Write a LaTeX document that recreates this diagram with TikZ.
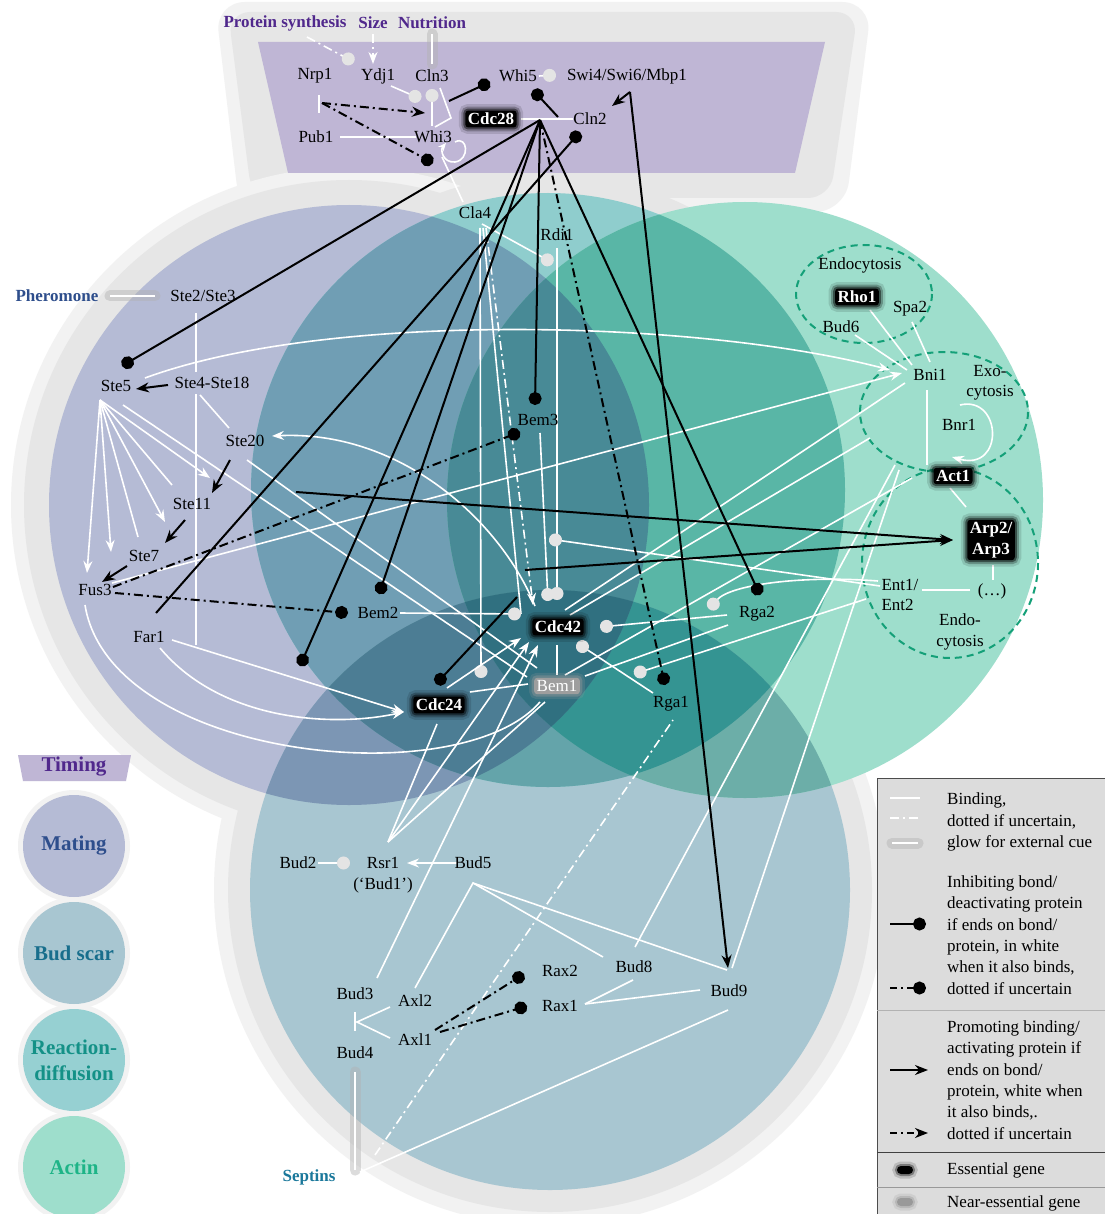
\documentclass[tikz,border=0pt]{standalone}
\usepackage{fontspec}
\setmainfont{Liberation Serif}
\usetikzlibrary{arrows.meta}
\definecolor{cMat}{RGB}{181,187,213}
\definecolor{cRea}{RGB}{143,205,205}
\definecolor{cAct}{RGB}{158,222,204}
\definecolor{cBud}{RGB}{168,198,209}
\definecolor{cMR}{RGB}{112,158,180}
\definecolor{cRA}{RGB}{89,182,166}
\definecolor{cMA}{RGB}{112,163,170}
\definecolor{cMB}{RGB}{124,150,180}
\definecolor{cRB}{RGB}{100,164,170}
\definecolor{cAB}{RGB}{108,174,168}
\definecolor{cMRA}{RGB}{72,138,150}
\definecolor{cMRB}{RGB}{76,125,148}
\definecolor{cRAB}{RGB}{52,148,146}
\definecolor{cMAB}{RGB}{80,132,146}
\definecolor{cMRAB}{RGB}{48,112,128}
\definecolor{cTop}{RGB}{191,182,213}
\definecolor{cGlow}{RGB}{230,230,230}
\definecolor{cGlowB}{RGB}{242,242,242}
\definecolor{cPurp}{RGB}{80,40,140}
\definecolor{cBlue}{RGB}{46,78,140}
\definecolor{cSep}{RGB}{26,120,155}
\definecolor{cDash}{RGB}{20,160,120}
\definecolor{cDot}{RGB}{228,228,228}
\definecolor{cLeg}{RGB}{220,220,220}
\definecolor{tBud}{RGB}{24,110,140}
\definecolor{tRea}{RGB}{20,145,135}
\definecolor{tAct}{RGB}{30,180,135}
\definecolor{lRea}{RGB}{150,208,210}
\newcommand\lbl{\fontsize{17}{20.5}\selectfont}
\newcommand\legf{\fontsize{17}{21.4}\selectfont}
\newcommand\titf{\fontsize{21}{26}\selectfont}
\begin{document}
\begin{tikzpicture}[x=1pt,y=-1pt,
  every node/.style={font=\lbl, inner sep=1pt},
  ess/.style={fill=black, text=white, font=\lbl\bfseries, rounded corners=3pt, inner sep=2.5pt,
     preaction={draw=black, line width=13pt, draw opacity=0.12},
     preaction={draw=black, line width=8pt, draw opacity=0.25},
     preaction={draw=black, line width=4pt, draw opacity=0.45}},
  nes/.style={fill=black!38, text=white, rounded corners=3pt, inner sep=2.5pt,
     preaction={draw=black!40, line width=10pt, draw opacity=0.2},
     preaction={draw=black!40, line width=5pt, draw opacity=0.4}},
  wl/.style={draw=white, line width=1.6pt},
  bl/.style={draw=black, line width=2pt},
  dd/.style={dash pattern=on 9pt off 4pt on 2pt off 4pt},
  bdot/.style={-{Circle[length=13pt]}},
  wdot/.style={-{Circle[length=13pt,color=cDot,fill=cDot]}},
  barr/.style={-{Stealth[length=13pt,width=10pt]}},
  warr/.style={-{Stealth[length=12pt,width=9pt]}},
  cue/.style={draw=black!30, line width=11pt, line cap=round, draw opacity=0.45},
  title/.style={font=\lbl\bfseries},
  ltitle/.style={font=\titf\bfseries},
]
\useasboundingbox (0,0) rectangle (1105,1214);
\fill[white] (0,0) rectangle (1105,1214);
% ---------------- glow
\fill[cGlowB, rounded corners=30pt] (215,2) -- (872,2) -- (845,212) -- (240,212) -- cycle;
\fill[cGlow, rounded corners=22pt] (228,12) -- (858,12) -- (830,198) -- (252,198) -- cycle;
\fill[cGlowB] (349,505) circle (338);
\fill[cGlowB] (550,890) circle (336);
\fill[cGlow] (349,505) circle (325);
\fill[cGlow] (550,890) circle (322);
\fill[cGlow] (548,490) circle (316);
% ---------------- singles
\fill[cMat] (349,505) circle (300);
\fill[cBud] (550,890) circle (300);
\fill[cRea] (548,490) circle (297);
\fill[cAct] (745,500) circle (298);
% ---------------- pairs
\begin{scope}\clip (349,505) circle (300); \fill[cMR] (548,490) circle (297); \end{scope}
\begin{scope}\clip (349,505) circle (300); \fill[cMA] (745,500) circle (298); \end{scope}
\begin{scope}\clip (349,505) circle (300); \fill[cMB] (550,890) circle (300); \end{scope}
\begin{scope}\clip (548,490) circle (297); \fill[cRA] (745,500) circle (298); \end{scope}
\begin{scope}\clip (548,490) circle (297); \fill[cRB] (550,890) circle (300); \end{scope}
\begin{scope}\clip (745,500) circle (298); \fill[cAB] (550,890) circle (300); \end{scope}
% ---------------- triples
\begin{scope}\clip (349,505) circle (300); \clip (548,490) circle (297); \fill[cMRA] (745,500) circle (298); \end{scope}
\begin{scope}\clip (349,505) circle (300); \clip (548,490) circle (297); \fill[cMRB] (550,890) circle (300); \end{scope}
\begin{scope}\clip (548,490) circle (297); \clip (745,500) circle (298); \fill[cRAB] (550,890) circle (300); \end{scope}
\begin{scope}\clip (349,505) circle (300); \clip (745,500) circle (298); \fill[cMAB] (550,890) circle (300); \end{scope}
\begin{scope}\clip (349,505) circle (300); \clip (548,490) circle (297); \clip (745,500) circle (298); \fill[cMRAB] (550,890) circle (300); \end{scope}
% ---------------- top panel
\fill[cTop] (258,42) -- (825,42) -- (795,173) -- (288,173) -- cycle;
% dashed compartments
\draw[cDash, line width=2pt, dash pattern=on 7pt off 5pt] (864,294) ellipse (68 and 49);
\draw[cDash, line width=2pt, dash pattern=on 7pt off 5pt] (944,412) ellipse (84 and 60);
\draw[cDash, line width=2pt, dash pattern=on 7pt off 5pt] (950,563) ellipse (88 and 95);

% ---------------- coordinates
\coordinate (psA) at (307,37); \coordinate (psD) at (354,62);
\coordinate (szA) at (373,34); \coordinate (szB) at (373,64);
\coordinate (nuA) at (432,34); \coordinate (nuB) at (432,64);
\coordinate (ydA) at (391,86); \coordinate (ydD) at (421,99);
\coordinate (w3A) at (432,126); \coordinate (c3D) at (432,89);
\coordinate (brA) at (440,88); \coordinate (brB) at (451,118); \coordinate (brC) at (435,127);
\coordinate (c3A) at (449,101); \coordinate (w5D) at (490,82);
\coordinate (c2A) at (558,117); \coordinate (w5D2) at (533,90);
\coordinate (w5A) at (539,76); \coordinate (swD) at (556,75);
\coordinate (bndA) at (521,119); \coordinate (bndB) at (573,119);
\coordinate (p1A) at (340,137); \coordinate (w3B) at (416,137);
\coordinate (nbA) at (319,95); \coordinate (nbB) at (319,113);
\coordinate (nrA) at (322,103); \coordinate (nrB) at (425,113); \coordinate (w3D) at (433,163);
\coordinate (swA) at (630,92); \coordinate (c2B) at (612,106); \coordinate (b9T) at (728,968);
\coordinate (h28) at (540,120);
\coordinate (s5D) at (122,366); \coordinate (f1A) at (156,613); \coordinate (c2D) at (580,132);
\coordinate (xD) at (300,666); \coordinate (b2D) at (379,594); \coordinate (c24D) at (436,684);
\coordinate (c42L) at (517,597);
\coordinate (b3D) at (535,405); \coordinate (rg1D) at (665,685); \coordinate (rg2D) at (760,595);
\coordinate (w3C) at (442,157); \coordinate (claA) at (463,202);
\coordinate (phA) at (110,296); \coordinate (phB) at (155,296);
\coordinate (s2A) at (196,313); \coordinate (s2B) at (196,372);
\coordinate (s4A) at (196,394); \coordinate (s4B) at (196,645);
\coordinate (s4C) at (168,385); \coordinate (s5A) at (136,389);
\coordinate (s4D) at (200,395); \coordinate (s20A) at (229,428);
\coordinate (s5F) at (100,400);
\coordinate (fan1) at (87,573); \coordinate (fan2) at (111,552); \coordinate (fan3) at (138,537);
\coordinate (fan4) at (165,522); \coordinate (fan5) at (172,485); \coordinate (fan6) at (210,478);
\coordinate (s5B) at (123,405); \coordinate (bm1A) at (527,677);
\coordinate (s20B) at (247,460); \coordinate (bm1B) at (537,668);
\coordinate (c42A) at (535,606); \coordinate (s20C) at (272,436);
\coordinate (s20D) at (230,460); \coordinate (s11A) at (212,493);
\coordinate (s11B) at (185,520); \coordinate (s7A) at (165,543);
\coordinate (s7B) at (127,566); \coordinate (f3A) at (102,582);
\coordinate (f3B) at (112,583); \coordinate (bniA) at (902,373);
\coordinate (f3C) at (113,587); \coordinate (b3D2) at (520,432);
\coordinate (f3D) at (115,593); \coordinate (b2D2) at (348,613);
\coordinate (f3E) at (85,605); \coordinate (bm1C) at (540,702);
\coordinate (f1B) at (172,640); \coordinate (c24A) at (404,712);
\coordinate (f1C) at (160,648);
\coordinate (s5C) at (145,378); \coordinate (bniB) at (890,370);
\coordinate (claB) at (482,224); \coordinate (rdD) at (553,263);
\coordinate (rdA) at (557,248); \coordinate (c42D) at (557,600);
\coordinate (b3A) at (540,433); \coordinate (c42D2) at (548,601);
\coordinate (claC) at (480,228); \coordinate (clD) at (481,678);
\coordinate (claD) at (486,228); \coordinate (c42B) at (533,605);
\coordinate (claE) at (483,228); \coordinate (cxD) at (521,614);
\coordinate (b2A) at (400,613);
\coordinate (c24B) at (447,688); \coordinate (c42C) at (521,638);
\coordinate (c24C) at (470,692); \coordinate (bm1D) at (528,684);
\coordinate (c42E) at (557,645); \coordinate (bm1E) at (557,675);
\coordinate (rsA) at (388,842); \coordinate (c24E) at (437,724);
\coordinate (c42F) at (529,642); \coordinate (bm1F) at (545,702);
\coordinate (bd3A) at (377,978); \coordinate (c42G) at (538,645);
\coordinate (bm1G) at (565,675); \coordinate (act1A) at (912,478);
\coordinate (c42H) at (565,610); \coordinate (bniC) at (905,383);
\coordinate (c42I) at (570,615); \coordinate (exoA) at (870,438);
\coordinate (bm1H) at (585,676); \coordinate (rg2A) at (728,625);
\coordinate (rg2B) at (727,615); \coordinate (c42J) at (600,627);
\coordinate (entA) at (878,581); \coordinate (rgbD) at (709,609);
\coordinate (entB) at (880,586); \coordinate (b3bD) at (549,539);
\coordinate (entC) at (866,599); \coordinate (r1bD) at (634,674);
\coordinate (rg1A) at (653,693); \coordinate (c42K) at (577,643);
\coordinate (seA) at (375,1155); \coordinate (rg1B) at (673,720);
\coordinate (arA) at (296,492); \coordinate (arB) at (525,570); \coordinate (arT) at (953,540);
\coordinate (b8A) at (635,947); \coordinate (b9A) at (732,968);
\coordinate (actB) at (895,465); \coordinate (actC) at (899,470);
\coordinate (bniD) at (927,390); \coordinate (actD) at (927,465);
\coordinate (actE) at (950,488); \coordinate (arpA) at (966,507);
\coordinate (rhA) at (870,310); \coordinate (bniE) at (912,365);
\coordinate (spA) at (912,322); \coordinate (bniF) at (930,362);
\coordinate (bdA) at (855,335); \coordinate (bniG) at (907,370);
\coordinate (arpB) at (993,565); \coordinate (etcA) at (993,580);
\coordinate (entD) at (922,590); \coordinate (etcB) at (970,590);
\coordinate (bd2A) at (318,863); \coordinate (rsD) at (350,863);
\coordinate (bd5A) at (457,863); \coordinate (rsB) at (407,863);
\coordinate (axA) at (415,988); \coordinate (bd5P) at (473,883);
\coordinate (bd8A) at (603,957); \coordinate (bd9A) at (727,970);
\coordinate (tA) at (355,1012); \coordinate (tB) at (355,1031); \coordinate (tC) at (357,1022);
\coordinate (ax2A) at (390,1007); \coordinate (ax1A) at (390,1038);
\coordinate (ax1B) at (435,1030); \coordinate (rx2D) at (524,974);
\coordinate (ax1C) at (440,1032); \coordinate (rx1D) at (527,1006);
\coordinate (rx1A) at (585,1004); \coordinate (bd8B) at (633,980); \coordinate (bd9B) at (700,990);
\coordinate (bd4A) at (355,1072); \coordinate (seB) at (355,1170);
\coordinate (seC) at (360,1172); \coordinate (bd9C) at (728,1010);

% ---------------- edges: external cue glows
\draw[cue] (nuA) -- (nuB);
\draw[cue] (phA) -- (phB);
\draw[cue] (bd4A) -- (seB);
% white binding lines
\draw[wl,dd,wdot] (psA) -- (psD);
\draw[wl,dd,warr] (szA) -- (szB);
\draw[wl] (nuA) -- (nuB);
\draw[wl,wdot] (ydA) -- (ydD);
\draw[wl,wdot] (w3A) -- (c3D);
\draw[wl] (brA) -- (brB) -- (brC);
\draw[wl,wdot] (w5A) -- (swD);
\draw[wl] (bndA) -- (bndB);
\draw[wl] (p1A) -- (w3B);
\draw[wl] (nbA) -- (nbB);
\draw[wl,-{Stealth[length=8pt,width=7pt]}] (455,142) .. controls (468,135) and (470,160) .. (455,162) .. controls (443,163) and (440,150) .. (446,143);
\draw[wl] (w3C) -- (claA);
\draw[wl] (phA) -- (phB);
\draw[wl] (s2A) -- (s2B);
\draw[wl] (s4A) -- (s4B);
\draw[wl] (s4D) -- (s20A);
\draw[wl,warr] (s5F) -- (fan1);
\draw[wl,warr] (s5F) -- (fan2);
\draw[wl] (s5F) -- (fan3);
\draw[wl,warr] (s5F) -- (fan4);
\draw[wl] (s5F) -- (fan5);
\draw[wl,warr] (s5F) -- (fan6);
\draw[wl] (s5B) -- (bm1A);
\draw[wl] (s20B) -- (bm1B);
\draw[wl,warr] (c42A) .. controls (500,520) and (400,430) .. (s20C);
\draw[wl,warr] (f3B) -- (bniA);
\draw[wl] (f3E) .. controls (110,760) and (460,795) .. (bm1C);
\draw[wl,warr] (f1B) -- (c24A);
\draw[wl,warr] (f1C) .. controls (220,720) and (330,728) .. (c24A);
\draw[wl,warr] (s5C) .. controls (330,310) and (700,320) .. (bniB);
\draw[wl,wdot] (claB) -- (rdD);
\draw[wl,wdot] (rdA) -- (c42D);
\draw[wl,wdot] (b3A) -- (c42D2);
\draw[wl,wdot] (claC) -- (clD);
\draw[wl,dd,warr] (claD) -- (c42B);
\draw[wl] (claE) -- (cxD);
\draw[wl,wdot] (b2A) -- (cxD);
\draw[wl,warr] (c24B) -- (c42C);
\draw[wl] (c24C) -- (bm1D);
\draw[wl] (c42E) -- (bm1E);
\draw[wl] (rsA) -- (c24E);
\draw[wl,warr] (rsA) -- (c42F);
\draw[wl] (rsA) -- (bm1F);
\draw[wl,warr] (bd3A) -- (c42G);
\draw[wl] (bm1G) -- (act1A);
\draw[wl] (c42H) -- (bniC);
\draw[wl] (c42I) -- (exoA);
\draw[wl] (bm1H) -- (rg2A);
\draw[wl,wdot] (rg2B) -- (c42J);
\draw[wl,wdot] (entA) .. controls (800,575) and (730,585) .. (rgbD);
\draw[wl,wdot] (entB) -- (b3bD);
\draw[wl,wdot] (entC) -- (r1bD);
\draw[wl,wdot] (rg1A) -- (c42K);
\draw[wl,dd] (seA) -- (rg1B);
\draw[wl] (b8A) -- (actB);
\draw[wl] (b9A) -- (actC);
\draw[wl] (bniD) -- (actD);
\draw[wl] (actE) -- (arpA);
\draw[wl] (rhA) -- (bniE);
\draw[wl] (spA) -- (bniF);
\draw[wl] (bdA) -- (bniG);
\draw[wl,warr] (960,405) .. controls (1002,395) and (1005,472) .. (952,457);
\draw[wl] (arpB) -- (etcA);
\draw[wl] (entD) -- (etcB);
\draw[wl,wdot] (bd2A) -- (rsD);
\draw[wl,warr] (bd5A) -- (rsB);
\draw[wl] (axA) -- (bd5P) -- (bd8A);
\draw[wl] (bd5P) -- (bd9A);
\draw[wl] (tA) -- (tB);
\draw[wl] (ax2A) -- (tC) -- (ax1A);
\draw[wl] (rx1A) -- (bd8B);
\draw[wl] (rx1A) -- (bd9B);
\draw[wl] (bd4A) -- (seB);
\draw[wl] (seC) -- (bd9C);
% black lines
\draw[bl,bdot] (c3A) -- (w5D);
\draw[bl,bdot] (c2A) -- (w5D2);
\draw[bl,dd,barr] (nrA) -- (nrB);
\draw[bl,dd,bdot] (nrA) -- (w3D);
\draw[bl,barr] (swA) -- (c2B);
\draw[bl,barr] (swA) -- (b9T);
\draw[bl,bdot] (h28) -- (s5D);
\draw[bl,bdot] (f1A) -- (c2D);
\draw[bl,bdot] (h28) -- (xD);
\draw[bl,bdot] (h28) -- (b2D);
\draw[bl,bdot] (c42L) -- (c24D);
\draw[bl,bdot] (h28) -- (b3D);
\draw[bl,dd,bdot] (h28) -- (rg1D);
\draw[bl,bdot] (h28) -- (rg2D);
\draw[bl,barr] (s4C) -- (s5A);
\draw[bl,barr] (s20D) -- (s11A);
\draw[bl,barr] (s11B) -- (s7A);
\draw[bl,barr] (s7B) -- (f3A);
\draw[bl,dd,bdot] (f3C) -- (b3D2);
\draw[bl,dd,bdot] (f3D) -- (b2D2);
\draw[bl,barr] (arA) -- (arT);
\draw[bl,barr] (arB) -- (arT);
\draw[bl,dd,bdot] (ax1B) -- (rx2D);
\draw[bl,dd,bdot] (ax1C) -- (rx1D);

% ---------------- nodes
\node[title, text=cPurp] (ps) at (285,23) {Protein synthesis};
\node[title, text=cPurp] (size) at (373,23) {Size};
\node[title, text=cPurp] (nut) at (432,23) {Nutrition};
\node (nrp1) at (315,76) {Nrp1};
\node (ydj1) at (378,76) {Ydj1};
\node (cln3) at (432,76) {Cln3};
\node (whi5) at (518,76) {Whi5};
\node (swi) at (627,76) {Swi4/Swi6/Mbp1};
\node[ess] (cdc28) at (491,119) {Cdc28};
\node (cln2) at (590,119) {Cln2};
\node (pub1) at (316,137) {Pub1};
\node (whi3) at (433,137) {Whi3};
\node[title, text=cBlue] (pher) at (57,296) {Pheromone};
\node (ste2) at (203,296) {Ste2/Ste3};
\node (ste5) at (116,386) {Ste5};
\node (ste4) at (212,383) {Ste4-Ste18};
\node (ste20) at (245,441) {Ste20};
\node (ste11) at (192,504) {Ste11};
\node (ste7) at (144,556) {Ste7};
\node (fus3) at (95,590) {Fus3};
\node (far1) at (149,637) {Far1};
\node (bem2) at (378,613) {Bem2};
\node (cla4) at (475,213) {Cla4};
\node (rdi1) at (557,235) {Rdi1};
\node (bem3) at (538,420) {Bem3};
\node[ess] (cdc42) at (558,627) {Cdc42};
\node[ess] (cdc24) at (439,705) {Cdc24};
\node[nes] (bem1) at (557,686) {Bem1};
\node (rga1) at (671,704) {Rga1};
\node (rga2) at (757,614) {Rga2};
\node (endoA) at (860,265) {Endocytosis};
\node[ess] (rho1) at (857,297) {Rho1};
\node (spa2) at (910,309) {Spa2};
\node (bud6) at (841,327) {Bud6};
\node (bni1) at (930,375) {Bni1};
\node[align=center] (exo) at (990,383) {Exo-\\cytosis};
\node (bnr1) at (959,425) {Bnr1};
\node[ess] (act1) at (953,476) {Act1};
\node[ess, align=center] (arp) at (991,540) {Arp2/\\Arp3};
\node[align=left] (ent) at (900,595) {Ent1/\\Ent2};
\node (etc) at (992,591) {(\ldots)};
\node[align=center] (endoB) at (960,632) {Endo-\\cytosis};
\node (bud2) at (298,863) {Bud2};
\node (rsr1) at (383,863) {Rsr1};
\node (bud1) at (383,885) {(‘Bud1’)};
\node (bud5) at (473,863) {Bud5};
\node (bud3) at (355,994) {Bud3};
\node (axl2) at (415,1001) {Axl2};
\node (axl1) at (415,1040) {Axl1};
\node (bud4) at (355,1053) {Bud4};
\node (rax2) at (560,971) {Rax2};
\node (rax1) at (560,1006) {Rax1};
\node (bud8) at (634,967) {Bud8};
\node (bud9) at (729,991) {Bud9};
\node[title, text=cSep] (sept) at (309,1177) {Septins};

% ---------------- timing legend
\fill[cTop] (18,755) -- (131,755) -- (126,781) -- (23,781) -- cycle;
\node[ltitle, text=cPurp] (timing) at (74,767) {Timing};
\fill[cGlowB] (74,846) circle (56);
\fill[cGlowB] (74,953) circle (56);
\fill[cGlowB] (74,1060) circle (56);
\fill[cGlowB] (74,1167) circle (56);
\fill[cMat] (74,846) circle (51);
\fill[cBud] (74,953) circle (51);
\fill[lRea] (74,1060) circle (51);
\fill[cAct] (74,1167) circle (51);
\node[ltitle, text=cBlue] (lmat) at (74,846) {Mating};
\node[ltitle, text=tBud] (lbud) at (74,953) {Bud scar};
\node[ltitle, text=tRea, align=center] (lrea) at (74,1060) {Reaction-\\diffusion};
\node[ltitle, text=tAct] (lact) at (74,1167) {Actin};

% ---------------- key
\fill[cLeg] (877,778) rectangle (1105,1214);
\draw[black!70, line width=1pt] (877,1214) -- (877,778) -- (1105,778);
\draw[black!30, line width=0.8pt] (877,1010) -- (1105,1010);
\draw[black!75, line width=1pt] (877,1152) -- (1105,1152);
\draw[black!40, line width=0.8pt] (877,1187) -- (1105,1187);
\coordinate (k1a) at (890,798); \coordinate (k1b) at (920,798);
\coordinate (k2a) at (890,818); \coordinate (k2b) at (920,818);
\coordinate (k3a) at (892,843); \coordinate (k3b) at (918,843);
\coordinate (k4a) at (890,924); \coordinate (k4b) at (926,924);
\coordinate (k5a) at (890,988); \coordinate (k5b) at (926,988);
\coordinate (k6a) at (890,1070); \coordinate (k6b) at (928,1070);
\coordinate (k7a) at (890,1133); \coordinate (k7b) at (928,1133);
\draw[wl] (k1a) -- (k1b);
\draw[wl,dd] (k2a) -- (k2b);
\draw[cue] (k3a) -- (k3b);
\draw[wl] (k3a) -- (k3b);
\draw[bl,bdot] (k4a) -- (k4b);
\draw[bl,dash pattern=on 7pt off 4pt on 2pt off 4pt,bdot] (k5a) -- (k5b);
\draw[bl,barr] (k6a) -- (k6b);
\draw[bl,dash pattern=on 7pt off 4pt on 2pt off 4pt,barr] (k7a) -- (k7b);
\node[fill=black, minimum width=16pt, minimum height=8pt, rounded corners=4pt,
  preaction={draw=black, line width=9pt, draw opacity=0.15},
  preaction={draw=black, line width=4pt, draw opacity=0.35}] (kess) at (905,1170) {};
\node[fill=black!40, minimum width=16pt, minimum height=8pt, rounded corners=4pt,
  preaction={draw=black!40, line width=9pt, draw opacity=0.2},
  preaction={draw=black!40, line width=4pt, draw opacity=0.4}] (knes) at (905,1202) {};
\node[anchor=west, align=left, font=\legf] (t1) at (946,822) {Binding,\\dotted if uncertain,\\glow for external cue};
\node[anchor=west, align=left, font=\legf] (t2) at (946,935) {Inhibiting bond/\\deactivating protein\\if ends on bond/\\protein, in white\\when it also binds,\\dotted if uncertain};
\node[anchor=west, align=left, font=\legf] (t3) at (946,1080) {Promoting binding/\\activating protein if\\ends on bond/\\protein, white when\\it also binds,.\\dotted if uncertain};
\node[anchor=west, font=\legf] (t4) at (946,1170) {Essential gene};
\node[anchor=west, font=\legf] (t5) at (946,1203) {Near-essential gene};
\end{tikzpicture}
\end{document}
